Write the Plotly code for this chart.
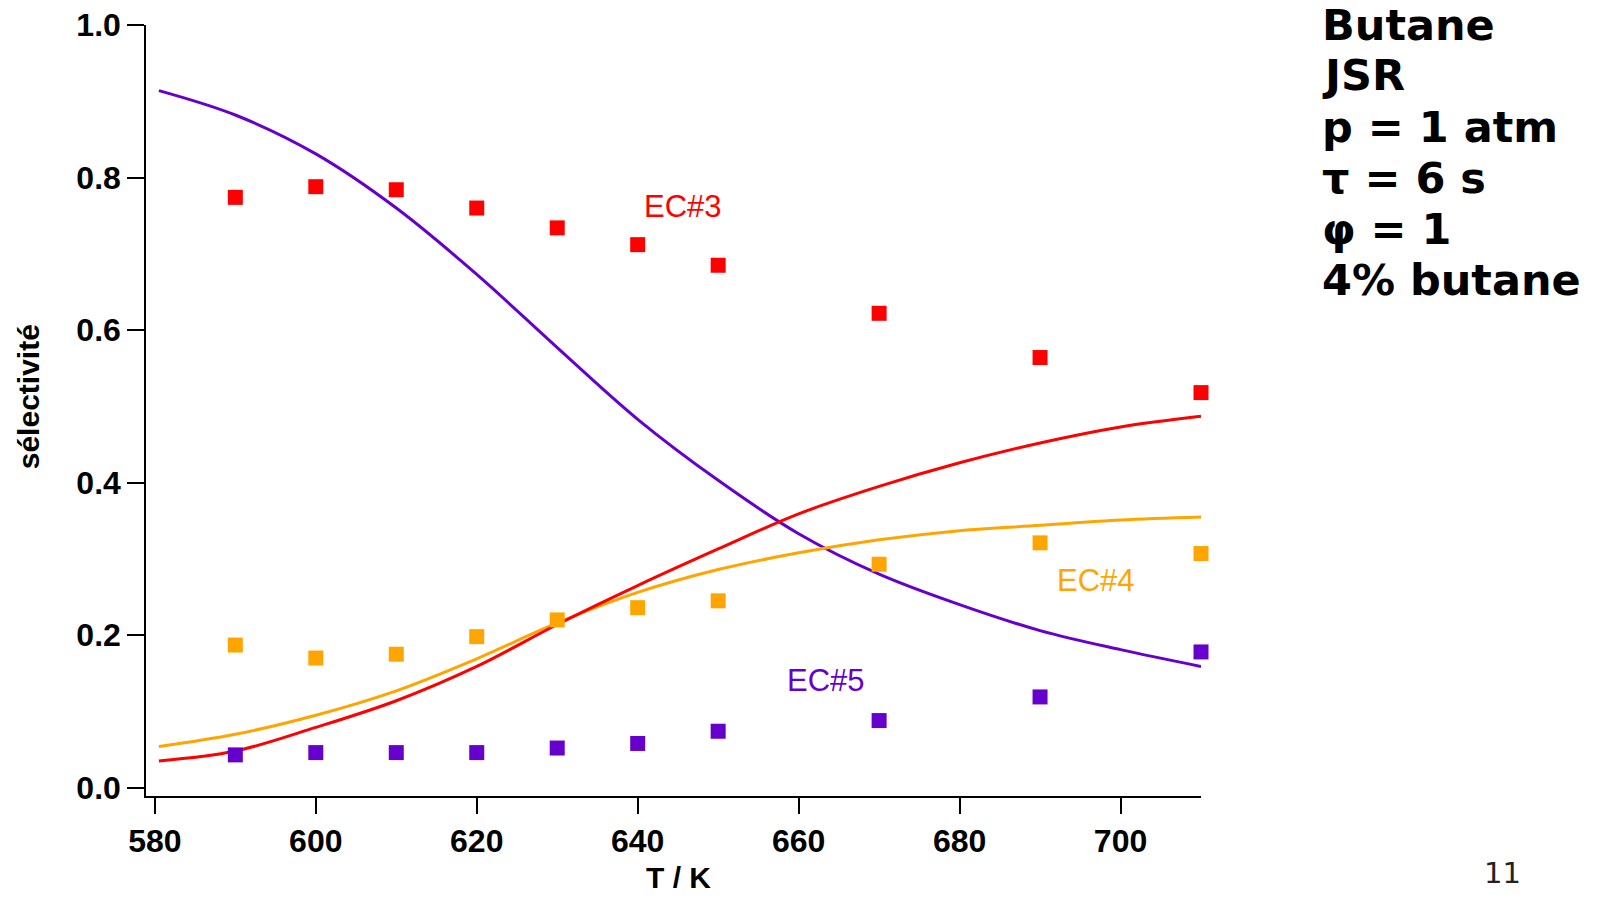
import plotly.graph_objects as go

# ---- data ----
T_exp = [590, 600, 610, 620, 630, 640, 650, 670, 690, 710]
ec3_exp = [0.774, 0.788, 0.784, 0.760, 0.734, 0.712, 0.685, 0.622, 0.564, 0.518]
ec4_exp = [0.187, 0.170, 0.175, 0.198, 0.220, 0.236, 0.245, 0.293, 0.321, 0.307]
ec5_exp = [0.043, 0.046, 0.046, 0.046, 0.052, 0.058, 0.074, 0.088, 0.119, 0.178]

T_model = [580.5, 590, 600, 610, 620, 630, 640, 650, 660, 670, 680, 690, 700, 710]
ec3_model = [0.035, 0.048, 0.079, 0.114, 0.159, 0.214, 0.265, 0.313, 0.359, 0.395, 0.426, 0.452, 0.473, 0.487]
ec4_model = [0.054, 0.070, 0.095, 0.127, 0.169, 0.216, 0.256, 0.286, 0.308, 0.325, 0.337, 0.344, 0.351, 0.355]
ec5_model = [0.914, 0.882, 0.831, 0.760, 0.673, 0.577, 0.483, 0.403, 0.333, 0.280, 0.240, 0.206, 0.181, 0.159]

x_ticks = [580, 600, 620, 640, 660, 680, 700]
y_ticks = [0.0, 0.2, 0.4, 0.6, 0.8, 1.0]
info_lines = ["Butane", "JSR", "p = 1 atm", "τ = 6 s", "φ = 1", "4% butane"]

RED = "#FF0000"
ORANGE = "#FFA500"
PURPLE = "#6600CC"

W, H = 1602, 898
L, R, T, B = 146, 401, 24.5, 102
PW, PH = W - L - R, H - T - B


def px(xp):
    return (xp - L) / PW


def py(yp):
    return (H - B - yp) / PH


fig = go.Figure()
for yv, c in [(ec5_model, PURPLE), (ec4_model, ORANGE), (ec3_model, RED)]:
    fig.add_trace(go.Scatter(x=T_model, y=yv, mode="lines", line=dict(color=c, width=3, shape="spline"),
                             showlegend=False, hoverinfo="skip"))
for yv, c in [(ec3_exp, RED), (ec4_exp, ORANGE), (ec5_exp, PURPLE)]:
    fig.add_trace(go.Scatter(x=T_exp, y=yv, mode="markers", cliponaxis=False,
                             marker=dict(symbol="square", size=15, color=c, line=dict(width=0)),
                             showlegend=False))

axfont = dict(family="Liberation Sans, Arial, sans-serif", size=32, color="black", weight="bold")
fig.update_xaxes(range=[578.9, 710], tickvals=x_ticks, ticktext=[str(v) for v in x_ticks],
                 showline=True, linecolor="black", linewidth=1.5, ticks="outside", ticklen=16,
                 tickwidth=1.5, tickcolor="black", showgrid=False, zeroline=False, tickfont=axfont,
                 ticklabelstandoff=0)
fig.update_yaxes(range=[-0.0109, 1.0], tickvals=y_ticks, ticktext=[f"{v:.1f}" for v in y_ticks],
                 showline=True, linecolor="black", linewidth=1.5, ticks="outside", ticklen=17,
                 tickwidth=1.5, tickcolor="black", showgrid=False, zeroline=False, tickfont=axfont,
                 ticklabelstandoff=0)

ann = []
ann.append(dict(text="sélectivité", x=px(28), y=py(397), xref="paper", yref="paper", textangle=-90,
                showarrow=False, xanchor="center", yanchor="middle",
                font=dict(family="Liberation Sans, Arial, sans-serif", size=30, color="black", weight="bold")))
ann.append(dict(text="T / K", x=px(678), y=py(878), xref="paper", yref="paper",
                showarrow=False, xanchor="center", yanchor="middle",
                font=dict(family="Liberation Sans, Arial, sans-serif", size=30, color="black", weight="bold")))
for txt, c, xc, yc in [("EC#3", RED, 683, 206), ("EC#4", ORANGE, 1096, 580), ("EC#5", PURPLE, 826, 680)]:
    ann.append(dict(text=txt, x=px(xc), y=py(yc), xref="paper", yref="paper", showarrow=False,
                    xanchor="center", yanchor="middle",
                    font=dict(family="Liberation Sans, Arial, sans-serif", size=31, color=c)))
line_y = [24.5, 74.6, 126.7, 177.8, 228.9, 280]
for txt, yc in zip(info_lines, line_y):
    ann.append(dict(text=txt, x=px(1320), y=py(yc), xref="paper", yref="paper", showarrow=False,
                    xanchor="left", yanchor="middle",
                    font=dict(family="DejaVu Sans, Verdana, sans-serif", size=43, color="black", weight="bold")))
ann.append(dict(text="11", x=px(1502), y=py(873), xref="paper", yref="paper", showarrow=False,
                xanchor="center", yanchor="middle",
                font=dict(family="DejaVu Sans, Verdana, sans-serif", size=29, color="#222222")))

fig.update_layout(width=W, height=H, margin=dict(l=L, r=R, t=T, b=B, autoexpand=False),
                  paper_bgcolor="white", plot_bgcolor="white", annotations=ann)

fig.write_html("out.html", config={"displayModeBar": False},
               post_script="document.body.style.margin='0';document.body.style.overflow='hidden';")
